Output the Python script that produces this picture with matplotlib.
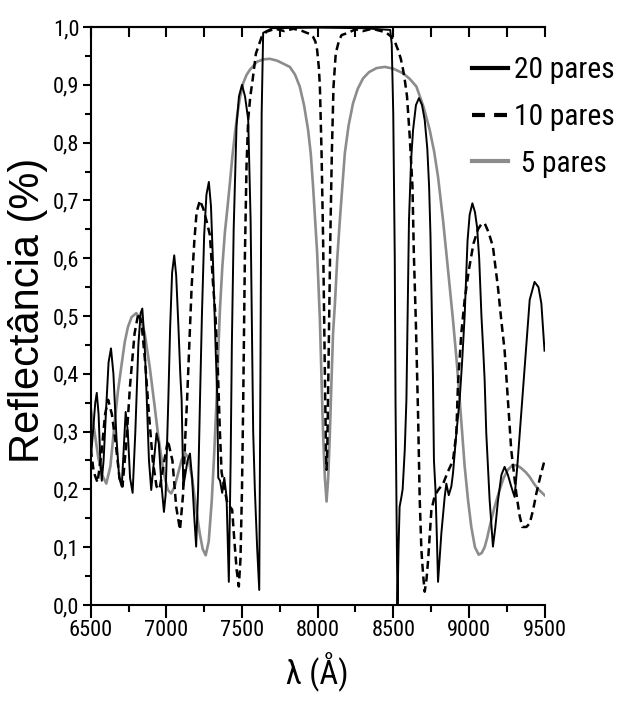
import numpy as np
import matplotlib
matplotlib.use('Agg')
import matplotlib.pyplot as plt
from matplotlib import font_manager
from matplotlib.font_manager import FontProperties
from matplotlib.textpath import TextPath
from matplotlib.lines import Line2D
from matplotlib.ticker import MultipleLocator

# 20 pares (solid black)
wl20 = [6500, 6515, 6530, 6540, 6552, 6562, 6573, 6585, 6600, 6618, 6634, 6650, 6670, 6688, 6705, 6718,
        6731, 6745, 6760, 6777, 6795, 6815, 6830, 6841, 6855, 6870, 6885, 6900, 6918, 6935, 6950, 6967,
        6984, 6995, 7005, 7013, 7025, 7038, 7052, 7065, 7080, 7092, 7101, 7112, 7125, 7140, 7156, 7170,
        7185, 7197, 7210, 7222, 7235, 7250, 7265, 7281, 7295, 7310, 7325, 7337, 7343, 7355, 7369, 7383,
        7398, 7405, 7413, 7425, 7433, 7445, 7464, 7480, 7500, 7520, 7541, 7557, 7565, 7574, 7585, 7600,
        7614, 7622, 7630, 7640, 7700, 8000, 8300, 8480, 8490, 8500, 8510, 8515, 8520, 8524, 8528, 8535,
        8542, 8554, 8562, 8576, 8587, 8595, 8604, 8618, 8631, 8650, 8670, 8690, 8708, 8725, 8737, 8746,
        8752, 8762, 8769, 8779, 8788, 8796, 8818, 8840, 8851, 8867, 8884, 8895, 8917, 8939, 8955, 8972,
        8991, 9005, 9023, 9040, 9054, 9068, 9083, 9095, 9104, 9115, 9137, 9159, 9175, 9192, 9215, 9236,
        9258, 9280, 9302, 9320, 9336, 9369, 9402, 9434, 9460, 9479, 9490, 9500]
r20 = [0.25, 0.30, 0.35, 0.367, 0.33, 0.26, 0.215, 0.25, 0.33, 0.42, 0.444, 0.40, 0.29, 0.22, 0.205, 0.27,
       0.334, 0.30, 0.22, 0.194, 0.30, 0.45, 0.505, 0.513, 0.46, 0.36, 0.25, 0.199, 0.25, 0.297, 0.28, 0.21,
       0.161, 0.19, 0.28, 0.355, 0.48, 0.575, 0.605, 0.57, 0.48, 0.40, 0.355, 0.205, 0.225, 0.25, 0.262, 0.22,
       0.15, 0.101, 0.20, 0.35, 0.50, 0.64, 0.71, 0.732, 0.69, 0.58, 0.45, 0.355, 0.22, 0.215, 0.194, 0.22,
       0.187, 0.12, 0.04, 0.25, 0.45, 0.65, 0.83, 0.88, 0.90, 0.88, 0.84, 0.666, 0.493, 0.30, 0.20, 0.10,
       0.026, 0.40, 0.85, 0.99, 0.998, 0.999, 0.998, 0.995, 0.97, 0.85, 0.60, 0.35, 0.20, 0.10, 0.0, 0.10,
       0.17, 0.187, 0.20, 0.268, 0.355, 0.50, 0.666, 0.77, 0.822, 0.865, 0.877, 0.865, 0.839, 0.79, 0.724, 0.64,
       0.55, 0.40, 0.25, 0.20, 0.12, 0.04, 0.124, 0.187, 0.21, 0.19, 0.205, 0.228, 0.297, 0.355, 0.42, 0.50,
       0.63, 0.675, 0.695, 0.68, 0.654, 0.60, 0.50, 0.44, 0.39, 0.297, 0.182, 0.101, 0.135, 0.18, 0.225, 0.239,
       0.225, 0.205, 0.187, 0.24, 0.297, 0.412, 0.528, 0.559, 0.55, 0.522, 0.48, 0.44]

# 10 pares (dashed black)
wl10 = [6500, 6520, 6545, 6570, 6595, 6615, 6640, 6665, 6690, 6710, 6735, 6760, 6790, 6815, 6835, 6860,
        6885, 6910, 6935, 6955, 6980, 7010, 7040, 7065, 7090, 7110, 7125, 7137, 7150, 7167, 7185, 7200,
        7222, 7245, 7270, 7288, 7310, 7325, 7340, 7354, 7365, 7385, 7400, 7420, 7435, 7450, 7465, 7479,
        7490, 7500, 7508, 7519, 7530, 7541, 7555, 7570, 7592, 7630, 7662, 7720, 7780, 7840, 7900, 7927,
        7950, 7970, 7985, 7997, 8008, 8015, 8026, 8036, 8043, 8050, 8055, 8059, 8064, 8069, 8076, 8084,
        8094, 8105, 8120, 8140, 8158, 8201, 8250, 8300, 8360, 8420, 8455, 8488, 8510, 8532, 8550, 8565,
        8578, 8591, 8609, 8627, 8636, 8649, 8664, 8675, 8686, 8698, 8708, 8720, 8730, 8752, 8775, 8800,
        8830, 8860, 8895, 8917, 8928, 8950, 8972, 9000, 9030, 9060, 9085, 9105, 9130, 9159, 9192, 9214,
        9236, 9258, 9280, 9313, 9335, 9353, 9380, 9402, 9425, 9446, 9470, 9500]
r10 = [0.27, 0.23, 0.212, 0.26, 0.33, 0.355, 0.33, 0.28, 0.22, 0.205, 0.28, 0.38, 0.47, 0.505, 0.49, 0.42,
       0.33, 0.25, 0.205, 0.20, 0.24, 0.285, 0.25, 0.17, 0.13, 0.19, 0.29, 0.355, 0.44, 0.55, 0.63, 0.68,
       0.70, 0.685, 0.66, 0.64, 0.55, 0.50, 0.41, 0.30, 0.23, 0.20, 0.18, 0.17, 0.165, 0.11, 0.06, 0.032,
       0.08, 0.20, 0.35, 0.60, 0.76, 0.84, 0.88, 0.908, 0.954, 0.983, 0.992, 0.997, 0.993, 0.997, 0.993, 0.99,
       0.988, 0.983, 0.975, 0.96, 0.93, 0.897, 0.782, 0.637, 0.493, 0.36, 0.27, 0.234, 0.27, 0.36, 0.493, 0.637,
       0.782, 0.897, 0.955, 0.975, 0.986, 0.99, 0.996, 0.993, 0.997, 0.993, 0.99, 0.983, 0.975, 0.96, 0.945, 0.926,
       0.905, 0.88, 0.81, 0.724, 0.609, 0.493, 0.33, 0.182, 0.095, 0.05, 0.023, 0.045, 0.076, 0.164, 0.19, 0.20,
       0.21, 0.23, 0.25, 0.297, 0.383, 0.47, 0.528, 0.58, 0.625, 0.65, 0.66, 0.66, 0.645, 0.62, 0.55, 0.493,
       0.441, 0.355, 0.268, 0.194, 0.155, 0.135, 0.135, 0.141, 0.165, 0.193, 0.22, 0.25]

# 5 pares (grey)
wl5 = [6500, 6525, 6550, 6575, 6603, 6630, 6658, 6680, 6702, 6725, 6746, 6770, 6801, 6830, 6857, 6890,
       6923, 6945, 6966, 6990, 7010, 7032, 7055, 7080, 7100, 7123, 7145, 7170, 7195, 7220, 7240, 7260,
       7280, 7300, 7316, 7332, 7345, 7354, 7370, 7387, 7405, 7420, 7436, 7453, 7470, 7486, 7508, 7530,
       7552, 7600, 7640, 7684, 7730, 7770, 7816, 7850, 7882, 7910, 7937, 7955, 7970, 7985, 7997, 8015,
       8025, 8036, 8048, 8059, 8070, 8081, 8092, 8102, 8114, 8130, 8147, 8165, 8180, 8205, 8234, 8265,
       8300, 8340, 8390, 8444, 8500, 8565, 8610, 8653, 8700, 8741, 8770, 8796, 8829, 8862, 8895, 8920,
       8939, 8955, 8972, 8995, 9016, 9040, 9065, 9085, 9104, 9120, 9137, 9170, 9203, 9230, 9258, 9285,
       9314, 9345, 9375, 9401, 9430, 9460, 9500]
r5 = [0.34, 0.30, 0.255, 0.225, 0.21, 0.24, 0.315, 0.37, 0.412, 0.455, 0.481, 0.498, 0.505, 0.495, 0.47, 0.412,
      0.343, 0.295, 0.257, 0.22, 0.199, 0.193, 0.205, 0.23, 0.25, 0.263, 0.255, 0.22, 0.17, 0.125, 0.097, 0.086,
      0.11, 0.18, 0.26, 0.355, 0.45, 0.51, 0.585, 0.645, 0.69, 0.73, 0.775, 0.815, 0.85, 0.877, 0.903, 0.917,
      0.926, 0.94, 0.944, 0.945, 0.942, 0.937, 0.931, 0.918, 0.897, 0.865, 0.822, 0.78, 0.724, 0.66, 0.609, 0.493,
      0.40, 0.297, 0.22, 0.179, 0.22, 0.297, 0.39, 0.47, 0.52, 0.60, 0.666, 0.73, 0.782, 0.83, 0.868, 0.893,
      0.911, 0.922, 0.929, 0.931, 0.928, 0.92, 0.91, 0.897, 0.862, 0.822, 0.785, 0.741, 0.666, 0.58, 0.493, 0.42,
      0.355, 0.30, 0.24, 0.18, 0.135, 0.10, 0.087, 0.09, 0.10, 0.115, 0.135, 0.17, 0.199, 0.22, 0.234, 0.241,
      0.242, 0.237, 0.23, 0.222, 0.21, 0.20, 0.19]

labels = ['20 pares', '10 pares', ' 5 pares']
yticks = [0.0, 0.1, 0.2, 0.3, 0.4, 0.5, 0.6, 0.7, 0.8, 0.9, 1.0]
xticks = [6500, 7000, 7500, 8000, 8500, 9000, 9500]

# the original uses a narrow sans font: take the narrowest installed sans face
sans = ['Liberation Sans Narrow', 'Roboto Condensed', 'Open Sans Condensed', 'Noto Sans', 'Open Sans',
        'Roboto', 'Lato', 'Inter', 'Liberation Sans', 'DejaVu Sans']
best = None
for f in font_manager.fontManager.ttflist:
    if f.name not in sans or f.style != 'normal' or f.weight not in (400, 'normal', 'regular', 'book'):
        continue
    try:
        ext = TextPath((0, 0), '6500', size=72, prop=FontProperties(fname=f.fname)).get_extents()
    except Exception:
        continue
    ratio = ext.width / ext.height
    if best is None or ratio < best[0]:
        best = (ratio, f)
face = best[1]
fpath = face.fname


def fit_size(text, width_px, digit_px, cap=1.12):
    # font size (pt) that gives roughly the wanted width and digit height in pixels
    fp = FontProperties(fname=fpath)
    w = TextPath((0, 0), text, size=72, prop=fp).get_extents().width
    h = TextPath((0, 0), '0', size=72, prop=fp).get_extents().height
    sw = width_px * 72 * 72 / (w * 100)
    sh = digit_px * 72 * 72 / (h * 100)
    return min(0.5 * (sw + sh), cap * sw)


def prop(size):
    return FontProperties(family=[face.name, 'DejaVu Sans'], stretch=face.stretch, weight='normal', size=size)


tick_fp = prop(fit_size('6500', 40, 17))
leg_fp = prop(fit_size('20 pares', 96, 25, cap=1.02))
xlab_fp = prop(fit_size('λ (Å)', 54, 26))

grey = '#8c8c8c'
fig = plt.figure(figsize=(6.18, 7.02), dpi=100)
ax = fig.add_axes([0.1468, 0.1382, 0.7343, 0.8233])

ax.plot(wl5, r5, color=grey, lw=1.9)
ax.plot(wl10, r10, color='black', lw=1.8, dashes=(3.2, 1.9))
ax.plot(wl20, r20, color='black', lw=1.4)

ax.set_xlim(6500, 9500)
ax.set_ylim(0, 1.0)
ax.set_xticks(xticks)
ax.set_xticklabels([str(v) for v in xticks], fontproperties=tick_fp)
ax.set_yticks(yticks)
ax.set_yticklabels([('%.1f' % v).replace('.', ',') for v in yticks], fontproperties=tick_fp)
ax.xaxis.set_minor_locator(MultipleLocator(250))
ax.yaxis.set_minor_locator(MultipleLocator(0.05))

ax.spines['right'].set_visible(False)
for s in ['left', 'bottom', 'top']:
    ax.spines[s].set_linewidth(1.5)
ax.tick_params(axis='y', which='major', direction='out', length=6, width=1.5, pad=2)
ax.tick_params(axis='y', which='minor', direction='out', length=4, width=1.5)
ax.tick_params(axis='x', which='major', direction='out', length=9, width=1.5, pad=2)
ax.tick_params(axis='x', which='minor', direction='out', length=5, width=1.5)

top = ax.secondary_xaxis('top')
top.set_xticks(xticks)
top.set_xticklabels([])
top.xaxis.set_minor_locator(MultipleLocator(250))
top.tick_params(which='both', direction='in', length=7, width=1.5)
top.spines['top'].set_linewidth(1.5)

fig.text(28 / 618, 1 - 310 / 702, 'Reflectância (%)', rotation=90, ha='center', va='center',
         fontsize=30, family=['Liberation Sans', 'DejaVu Sans'])
fig.text(317.6 / 618, 1 - 672 / 702, 'λ (Å)', ha='center', va='center', fontproperties=xlab_fp)

handles = [Line2D([], [], color='black', lw=3),
           Line2D([], [], color='black', lw=3, dashes=(3.1, 2.2)),
           Line2D([], [], color=grey, lw=3)]
fs_px = leg_fp.get_size_in_points() * 100 / 72
ax.legend(handles, labels, loc='center left', bbox_to_anchor=(0.8396, 0.8443), frameon=False,
          prop=leg_fp, handlelength=36 / fs_px, handletextpad=6 / fs_px,
          labelspacing=max(0.1, (53 - 1.17 * fs_px) / fs_px), borderaxespad=0, borderpad=0)

fig.savefig('out.png', dpi=100)
